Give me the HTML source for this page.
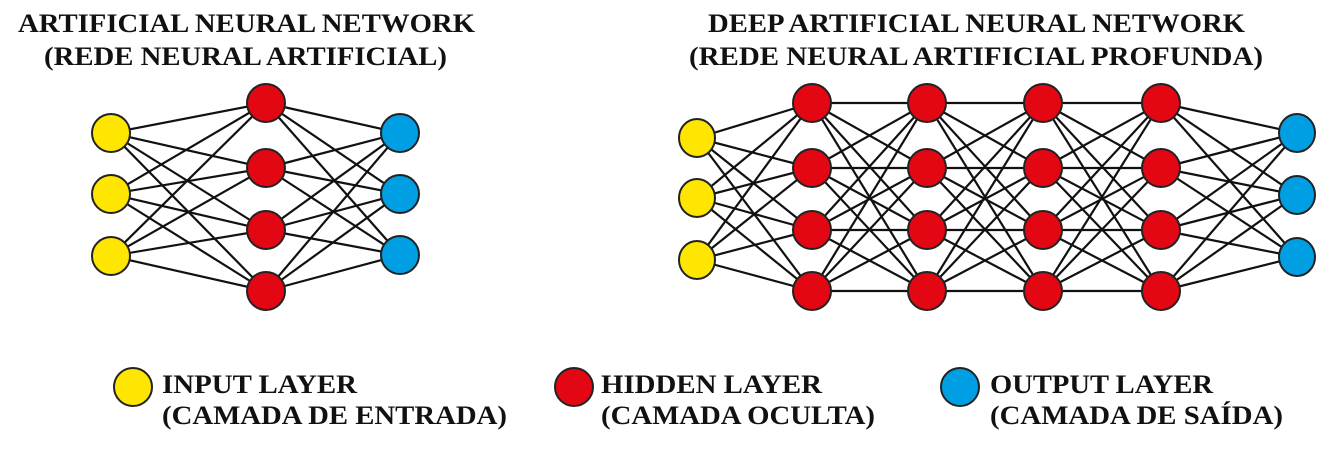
<!DOCTYPE html>
<html><head><meta charset="utf-8"><style>
html,body{margin:0;padding:0;background:#fff;}
svg{display:block;}
text{font-family:"Liberation Serif",serif;font-weight:bold;font-size:26px;fill:#111;}
</style></head><body>
<svg id="s" width="1338" height="451" viewBox="0 0 1338 451" xmlns="http://www.w3.org/2000/svg">
<g id="lines" stroke="#111" stroke-width="2.2"></g>
<g id="nodes" stroke="#222" stroke-width="2"></g>
<text x="18" y="32" textLength="457" lengthAdjust="spacingAndGlyphs">ARTIFICIAL NEURAL NETWORK</text>
<text x="44" y="65" textLength="403" lengthAdjust="spacingAndGlyphs">(REDE NEURAL ARTIFICIAL)</text>
<text x="708" y="32" textLength="537" lengthAdjust="spacingAndGlyphs">DEEP ARTIFICIAL NEURAL NETWORK</text>
<text x="689" y="65" textLength="574" lengthAdjust="spacingAndGlyphs">(REDE NEURAL ARTIFICIAL PROFUNDA)</text>
<circle cx="133" cy="387" r="19" fill="#ffe600" stroke="#222" stroke-width="2"/>
<circle cx="574" cy="387" r="19" fill="#e30613" stroke="#222" stroke-width="2"/>
<circle cx="960" cy="387" r="19" fill="#009fe3" stroke="#222" stroke-width="2"/>
<text x="162" y="393" textLength="195" lengthAdjust="spacingAndGlyphs">INPUT LAYER</text>
<text x="162" y="424" textLength="345" lengthAdjust="spacingAndGlyphs">(CAMADA DE ENTRADA)</text>
<text x="601" y="393" textLength="221" lengthAdjust="spacingAndGlyphs">HIDDEN LAYER</text>
<text x="601" y="424" textLength="274" lengthAdjust="spacingAndGlyphs">(CAMADA OCULTA)</text>
<text x="990" y="393" textLength="223" lengthAdjust="spacingAndGlyphs">OUTPUT LAYER</text>
<text x="990" y="424" textLength="293" lengthAdjust="spacingAndGlyphs">(CAMADA DE SAÍDA)</text>
</svg>
<script>
var NS="http://www.w3.org/2000/svg";
var L=document.getElementById("lines"),N=document.getElementById("nodes");
var Y="#ffe600",R="#e30613",B="#009fe3";
function net(layers){
 for(var i=0;i<layers.length-1;i++){
  var a=layers[i],b=layers[i+1];
  a.ys.forEach(function(y1){b.ys.forEach(function(y2){
   var l=document.createElementNS(NS,"line");
   l.setAttribute("x1",a.x);l.setAttribute("y1",y1);l.setAttribute("x2",b.x);l.setAttribute("y2",y2);
   L.appendChild(l);});});
 }
 layers.forEach(function(ly){ly.ys.forEach(function(y){
  var c=document.createElementNS(NS,"ellipse");
  c.setAttribute("cx",ly.x);c.setAttribute("cy",y);c.setAttribute("rx",ly.rx||19);c.setAttribute("ry",19);c.setAttribute("fill",ly.c);
  N.appendChild(c);});});
}
var H=[103,168,230,291];
net([{x:111,ys:[133,194,256],c:Y},{x:266,ys:H,c:R},{x:400,ys:[133,194,255],c:B}]);
net([{x:697,ys:[138,198,260],c:Y,rx:18},{x:812,ys:H,c:R},{x:927,ys:H,c:R},{x:1043,ys:H,c:R},{x:1161,ys:H,c:R},{x:1297,ys:[133,195,257],c:B,rx:18}]);
</script>
</body></html>
